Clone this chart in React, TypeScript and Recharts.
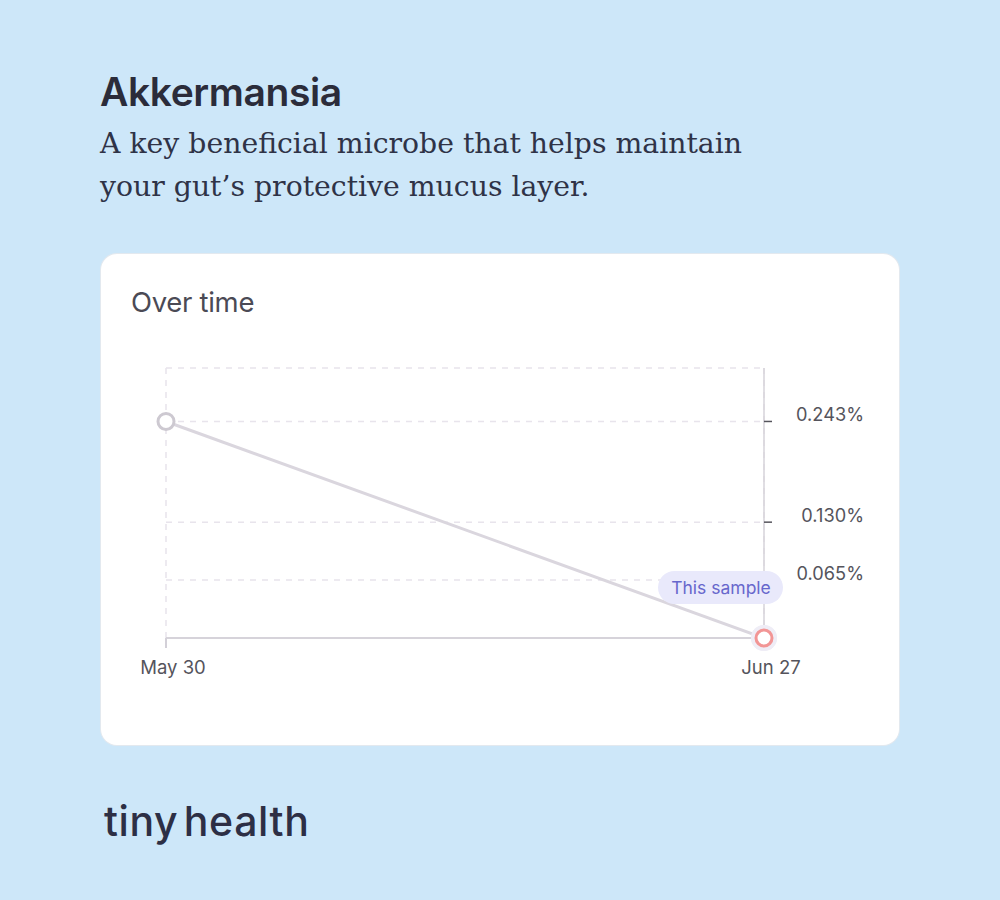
import React from 'react'
import { LineChart, Line, XAxis, YAxis, CartesianGrid, LabelList } from 'recharts'

const dates = ['May 30', 'Jun 27']
const abundance = [0.243, 0]
const yMax = 0.303
const yTicks = [0.065, 0.13, 0.243, yMax]
const tickLabels: Record<number, string> = { 0.065: '0.065%', 0.13: '0.130%', 0.243: '0.243%' }
const sampleLabel = 'This sample'

const data = dates.map((d, i) => ({ date: d, value: abundance[i] }))

const sans = 'Inter, "Noto Sans", sans-serif'

const XTick = (props: any) => {
  const { x, y, payload, index } = props
  return (
    <g>
      {index === 0 && <line x1={x} x2={x} y1={y} y2={y + 10} stroke='#d3d0d8' strokeWidth={2} />}
      <text x={x + 7} y={y + 36} textAnchor='middle' fill='#55545c' fontSize={18.5} fontFamily={sans}>
        {payload.value}
      </text>
    </g>
  )
}

const YTick = (props: any) => {
  const { x, y, payload } = props
  const label = tickLabels[payload.value]
  if (!label) return null
  return (
    <g>
      <line x1={x} x2={x + 8} y1={y} y2={y} stroke='#55545c' strokeWidth={1.5} />
      <text x={x + 100} y={y} textAnchor='end' fill='#55545c' fontSize={18.2} fontFamily={sans}>
        {label}
      </text>
    </g>
  )
}

const Dot = (props: any) => {
  const { cx, cy, index } = props
  if (index === abundance.length - 1) {
    return (
      <g key={index}>
        <circle cx={cx} cy={cy} r={13} fill='#efedf6' />
        <circle cx={cx} cy={cy} r={8} fill='#fff' stroke='#f29595' strokeWidth={3} />
      </g>
    )
  }
  return <circle key={index} cx={cx} cy={cy} r={8} fill='#fff' stroke='#cdc9d1' strokeWidth={3} />
}

const Badge = (props: any) => {
  const { x, y, index } = props
  if (index !== abundance.length - 1) return null
  return (
    <g>
      <rect x={x - 106} y={y - 67} width={125} height={33} rx={16.5} fill='#e9e9fb' />
      <text x={x - 43} y={y - 44} textAnchor='middle' fill='#6767cc' fontSize={17.5} fontFamily={sans}>
        {sampleLabel}
      </text>
      <circle cx={x} cy={y} r={13} fill='#efedf6' />
      <circle cx={x} cy={y} r={8} fill='#fff' stroke='#f29595' strokeWidth={3} />
    </g>
  )
}

export default function App() {
  return (
    <div style={{ position: 'absolute', left: 0, top: 0, width: 1000, height: 900, background: '#cde7f9', fontFamily: sans }}>
      <div style={{ position: 'absolute', left: 100, top: 68, fontSize: 39, fontWeight: 600, color: '#2b2c3a', letterSpacing: -0.4, lineHeight: '48px' }}>
        Akkermansia
      </div>
      <div style={{ position: 'absolute', left: 100, top: 122, width: 760, fontSize: 28.3, fontFamily: '"DejaVu Serif", serif', color: '#2f3347', lineHeight: '43px' }}>
        A key beneficial microbe that helps maintain<br />your gut’s protective mucus layer.
      </div>

      <div style={{ position: 'absolute', left: 101, top: 254, width: 798, height: 491, background: '#fff', borderRadius: 16, boxShadow: '0 0 0 1px #e3e9ef' }}>
        <div style={{ position: 'absolute', left: 30, top: 31, fontSize: 27.5, color: '#4b4a55', letterSpacing: -0.3 }}>Over time</div>
        <LineChart width={798} height={491} data={data} margin={{ top: 114, left: 65, right: 35, bottom: 67 }}>
          <CartesianGrid stroke='#e8e4ec' strokeDasharray='6 6' strokeWidth={1.5} />
          <XAxis dataKey='date' axisLine={{ stroke: '#d6d3da', strokeWidth: 2 }} tickLine={false} tickSize={0} tickMargin={0} height={40} tick={<XTick />} />
          <YAxis orientation='right' domain={[0, yMax]} ticks={yTicks} axisLine={{ stroke: '#d6d3da', strokeWidth: 1.5 }} tickLine={false} tickSize={0} tickMargin={0} width={100} tick={<YTick />} />
          <Line dataKey='value' stroke='#dad6de' strokeWidth={3} dot={<Dot />} activeDot={false} isAnimationActive={false}>
            <LabelList dataKey='value' content={<Badge />} />
          </Line>
        </LineChart>
      </div>

      <div style={{ position: 'absolute', left: 104, top: 796, fontSize: 41, fontWeight: 500, color: '#2d2f45', letterSpacing: 0.6, wordSpacing: -6, lineHeight: '50px' }}>
        tiny health
      </div>
    </div>
  )
}
